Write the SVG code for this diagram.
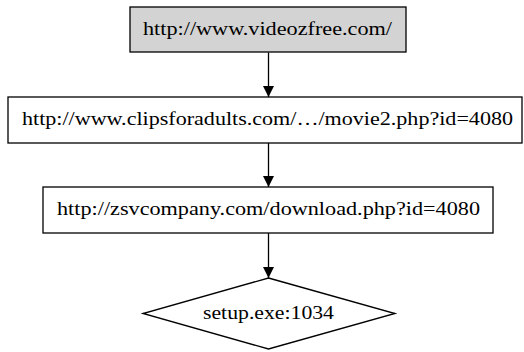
<svg xmlns="http://www.w3.org/2000/svg" width="524" height="352" viewBox="0 0 524 352">
<style>
.shape{stroke:#000;stroke-width:1.3;fill:#fff}
.start{fill:#d3d3d3}
.lbl{font-family:'Liberation Serif','Times New Roman','DejaVu Serif',serif;font-size:18px;fill:#000;text-anchor:middle}
.edge{stroke:#000;stroke-width:1.3;fill:none}
</style>
<defs>
<marker id="arrow" viewBox="0 0 11 11" refX="11" refY="5.5" markerWidth="11" markerHeight="11" markerUnits="userSpaceOnUse" orient="auto">
<path d="M0,0 L11,5.5 L0,11 z" fill="#000"/>
</marker>
</defs>
<rect width="524" height="352" fill="#fff"/>
<g id="connectors">
<path class="edge" d="M268.5,52.5 L268.5,97" marker-end="url(#arrow)"/>
<path class="edge" d="M268.5,143 L268.5,187" marker-end="url(#arrow)"/>
<path class="edge" d="M268.5,233 L268.5,278" marker-end="url(#arrow)"/>
</g>
<g id="node1">
<rect class="shape start" x="130" y="7" width="276" height="45"/>
<text class="lbl" x="267.5" y="35" textLength="249" lengthAdjust="spacingAndGlyphs">http://www.videozfree.com/</text>
</g>
<g id="node2">
<rect class="shape" x="8" y="97" width="514" height="46"/>
<text class="lbl" x="267.5" y="125" textLength="491" lengthAdjust="spacingAndGlyphs">http://www.clipsforadults.com/…/movie2.php?id=4080</text>
</g>
<g id="node3">
<rect class="shape" x="43" y="187" width="450" height="46"/>
<text class="lbl" x="268.5" y="215" textLength="423" lengthAdjust="spacingAndGlyphs">http://zsvcompany.com/download.php?id=4080</text>
</g>
<g id="node4">
<polygon class="shape" points="268.5,278 395,313.5 268.5,349 143,313.5"/>
<text class="lbl" x="268.5" y="318.5" textLength="131" lengthAdjust="spacingAndGlyphs">setup.exe:1034</text>
</g>
</svg>
